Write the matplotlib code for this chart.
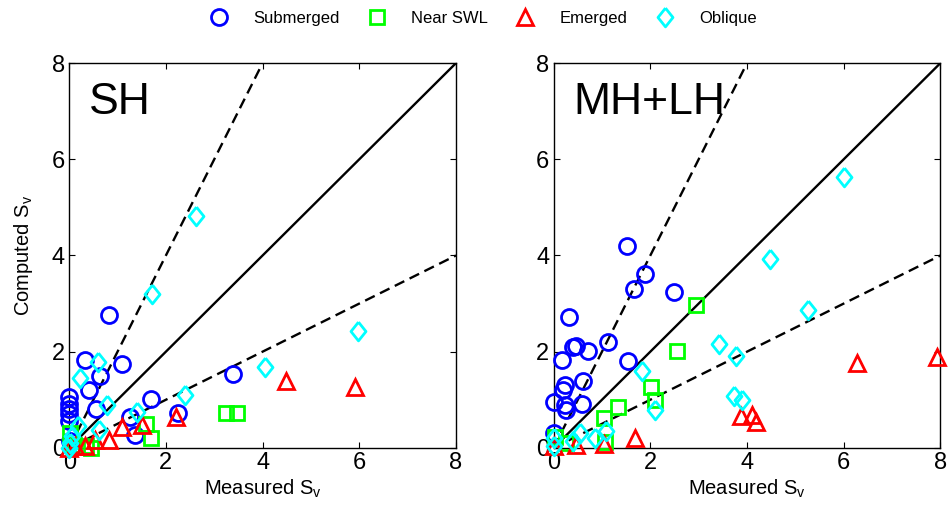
import numpy as np
import matplotlib
matplotlib.use("Agg")
import matplotlib.pyplot as plt

plt.rcParams['font.family'] = ['Liberation Sans', 'DejaVu Sans']
plt.rcParams['mathtext.fontset'] = 'custom'
plt.rcParams['mathtext.rm'] = 'Liberation Sans'
plt.rcParams['mathtext.it'] = 'Liberation Sans'

# measured / computed pairs, short-hull (SH) runs
sh_sub_x = [0.0, 0.0, 0.0, 0.0, 0.0, 0.02, 0.32, 0.41, 0.55, 0.64, 0.83, 1.10, 1.26, 1.37, 1.70, 2.25, 3.38]
sh_sub_y = [1.06, 0.92, 0.80, 0.70, 0.55, 0.15, 1.83, 1.21, 0.80, 1.50, 2.77, 1.74, 0.65, 0.27, 1.02, 0.72, 1.53]
sh_swl_x = [0.02, 0.10, 0.35, 0.45, 1.58, 1.70, 3.24, 3.48]
sh_swl_y = [0.30, 0.05, 0.03, 0.00, 0.50, 0.20, 0.73, 0.73]
sh_emg_x = [0.0, 0.12, 0.32, 0.54, 0.83, 1.10, 1.50, 2.20, 4.48, 5.92]
sh_emg_y = [0.0, 0.03, 0.04, 0.17, 0.16, 0.43, 0.48, 0.64, 1.38, 1.27]
sh_obl_x = [0.0, 0.02, 0.05, 0.19, 0.23, 0.59, 0.62, 0.78, 1.40, 1.72, 2.40, 2.62, 4.05, 5.98]
sh_obl_y = [0.0, 0.10, 0.25, 0.46, 1.45, 1.79, 0.38, 0.90, 0.75, 3.20, 1.10, 4.82, 1.68, 2.42]

# medium + long hull (MH+LH) runs
ml_sub_x = [0.0, 0.0, 0.18, 0.19, 0.23, 0.23, 0.26, 0.32, 0.40, 0.47, 0.58, 0.61, 0.72, 1.12, 1.51, 1.54, 1.67, 1.88, 2.48]
ml_sub_y = [0.30, 0.96, 1.82, 1.21, 1.30, 0.89, 0.79, 2.73, 2.09, 2.12, 0.92, 1.40, 2.02, 2.20, 4.19, 1.81, 3.31, 3.61, 3.24]
ml_swl_x = [0.02, 0.26, 1.04, 1.07, 1.34, 2.02, 2.09, 2.56, 2.94]
ml_swl_y = [0.23, 0.10, 0.62, 0.13, 0.85, 1.27, 1.00, 2.02, 2.97]
ml_emg_x = [0.0, 0.47, 1.05, 1.69, 3.88, 4.10, 4.19, 6.27, 7.93]
ml_emg_y = [0.03, 0.06, 0.08, 0.20, 0.67, 0.69, 0.53, 1.76, 1.89]
ml_obl_x = [0.0, 0.0, 0.40, 0.54, 0.85, 1.09, 1.83, 2.10, 3.43, 3.74, 3.77, 3.89, 4.48, 5.27, 6.00]
ml_obl_y = [0.03, 0.20, 0.15, 0.30, 0.20, 0.36, 1.60, 0.78, 2.16, 1.07, 1.90, 1.00, 3.93, 2.87, 5.63]

panels = [
    ("SH", [(sh_sub_x, sh_sub_y), (sh_swl_x, sh_swl_y), (sh_emg_x, sh_emg_y), (sh_obl_x, sh_obl_y)]),
    ("MH+LH", [(ml_sub_x, ml_sub_y), (ml_swl_x, ml_swl_y), (ml_emg_x, ml_emg_y), (ml_obl_x, ml_obl_y)]),
]

names = ["Submerged", "Near SWL", "Emerged", "Oblique"]
colors = ["#0000ff", "#00ff00", "#ff0000", "#00ffff"]
diamond = [(0, 1), (0.8, 0), (0, -1), (-0.8, 0), (0, 1)]
markers = ["o", "s", "^", diamond]
sizes = [11.5, 9.5, 11.5, 13.5]

fig = plt.figure(figsize=(9.48, 5.13), dpi=100)
lefts = [0.073, 0.584]
handles = []
for k, (title, series) in enumerate(panels):
    ax = fig.add_axes([lefts[k], 0.127, 0.408, 0.750])
    xx = np.array([0, 8])
    ax.plot(xx, xx, color="k", lw=1.7, zorder=1)
    ax.plot(xx, 2 * xx, color="k", lw=1.7, ls=(0, (4.5, 2.5)), zorder=1)
    ax.plot(xx, 0.5 * xx, color="k", lw=1.7, ls=(0, (4.5, 2.5)), zorder=1)
    for (x, y), c, m, s, n in zip(series, colors, markers, sizes, names):
        h, = ax.plot(x, y, ls="none", marker=m, ms=s, mfc="none", mec=c, mew=2.0,
                     label=n, zorder=3, clip_on=False)
        if k == 0:
            handles.append(h)
    ax.set_xlim(0, 8)
    ax.set_ylim(0, 8)
    ax.set_xticks([0, 2, 4, 6, 8])
    ax.set_yticks([0, 2, 4, 6, 8])
    ax.tick_params(direction="in", length=4, width=0.8, labelsize=17,
                   top=True, right=True, pad=3)
    for sp in ax.spines.values():
        sp.set_linewidth(1.0)
    ax.text(0.05, 0.95, title, transform=ax.transAxes, fontsize=32,
            ha="left", va="top")
    ax.set_xlabel("Measured S$_v$", fontsize=14.5, labelpad=3)
    if k == 0:
        ax.set_ylabel("Computed S$_v$", fontsize=14.5, labelpad=12)

fig.legend(handles=handles, loc="upper center", bbox_to_anchor=(0.508, 1.008), ncol=4,
           frameon=False, fontsize=12, handletextpad=1.3, columnspacing=1.5,
           handlelength=1.5)

fig.savefig("out.png", dpi=100)
